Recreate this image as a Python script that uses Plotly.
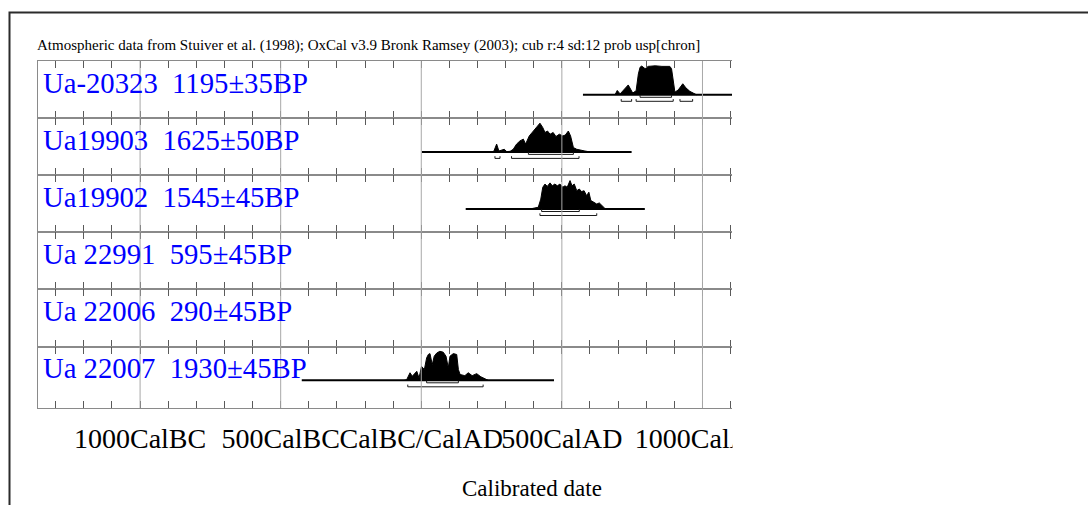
import plotly.graph_objects as go
from plotly.subplots import make_subplots

# ---------------- data ----------------
LAB_IDS = ["Ua-20323", "Ua19903", "Ua19902", "Ua 22991", "Ua 22006", "Ua 22007"]
BP_AGES = [1195, 1625, 1545, 595, 290, 1930]
BP_ERRS = [35, 50, 45, 45, 45, 45]

TICK_VALS = [-1000, -500, 0, 500, 1000]
TICK_TEXT = ["1000CalBC", "500CalBC", "CalBC/CalAD", "500CalAD", "1000CalAD"]

TITLE = ("Atmospheric data from Stuiver et al. (1998); OxCal v3.9 Bronk Ramsey (2003); "
         "cub r:4 sd:12 prob usp[chron]")
X_TITLE = "Calibrated date"

# Ua-20323
UA20323_YEARS = [689, 697, 707, 725, 736, 752, 764, 772, 778, 784, 796, 807, 832, 856, 884, 890,
                 896, 902, 914, 930, 941, 955, 967, 979]
UA20323_PROB = [0, .15, .03, .24, .34, .06, .14, .72, .95, .99, .90, .98, 1.0, .98, .98, .90,
                .38, .09, .17, .38, .24, .12, .06, 0]
UA20323_SPAN = [575, 1250]
UA20323_R68 = [[778, 890]]
UA20323_R95 = [[711, 748], [764, 896], [920, 965]]

# Ua19903
UA19903_YEARS = [245, 258, 268, 276, 295, 304, 316, 327, 339, 351, 363, 371, 384, 398, 410, 422,
                 432, 440, 449, 458, 469, 479, 491, 503, 512, 523, 531, 541, 553, 564, 582, 594]
UA19903_PROB = [0, .02, .27, .03, .09, .01, .02, .09, .27, .38, .44, .27, .55, .72, .84, .99,
                .84, .67, .72, .61, .67, .53, .61, .55, .58, .72, .55, .15, .09, .06, .03, .01]
UA19903_SPAN = [2, 748]
UA19903_R68 = [[381, 541]]
UA19903_R95 = [[262, 280], [321, 561]]

# Ua19902
UA19902_YEARS = [386, 416, 425, 432, 440, 448, 458, 466, 475, 484, 493, 503, 511, 519, 529, 536,
                 544, 553, 562, 570, 579, 588, 596, 603, 614, 624, 633, 642, 653, 665]
UA19902_PROB = [0, .06, .34, .75, .86, .78, .90, .80, .86, .80, .86, .75, .80, .75, .98, .80,
                .86, .63, .69, .60, .63, .46, .58, .29, .23, .17, .21, .12, .02, 0]
UA19902_SPAN = [158, 795]
UA19902_R68 = [[428, 562]]
UA19902_R95 = [[422, 624]]

# Ua 22007
UA22007_YEARS = [-60, -52, -40, -32, -16, -8, 1, 11, 19, 25, 31, 39, 46, 55, 66, 78, 88, 96,
                 102, 114, 126, 132, 138, 155, 167, 181, 197, 212, 227, 238]
UA22007_PROB = [0, .02, .26, .14, .31, .08, .48, .37, .77, .89, .92, .54, .83, .94, 1.0, .97,
                .83, .43, .83, .92, .89, .37, .20, .16, .26, .16, .23, .12, .05, 0]
UA22007_SPAN = [-425, 472]
UA22007_R68 = [[19, 132]]
UA22007_R95 = [[-48, 220]]

SERIES = {
    1: (UA20323_YEARS, UA20323_PROB, UA20323_SPAN, UA20323_R68, UA20323_R95),
    2: (UA19903_YEARS, UA19903_PROB, UA19903_SPAN, UA19903_R68, UA19903_R95),
    3: (UA19902_YEARS, UA19902_PROB, UA19902_SPAN, UA19902_R68, UA19902_R95),
    6: (UA22007_YEARS, UA22007_PROB, UA22007_SPAN, UA22007_R68, UA22007_R95),
}

# ---------------- layout / style ----------------
W, H = 1088, 505
PL, PR, PT, PB = 38, 732, 61, 408
PW, PH = PR - PL, PB - PT
ROW_PX = [57.1] * 5 + [61.5]
X_RANGE = [-1363, 1105]
BASE = 33.8        # baseline, px below row top
AMP = 29.0         # max density height, px
OFF68, OFF95, TICKH = 2.5, 6.5, 2.2

FONT = "Liberation Serif"
LINE_C = "#8a8a8a"
GRID_C = "#a8a8a8"
TICK_C = "#5a5a5a"
BLUE = "#0000ff"


def px_x(p):
    return (p - PL) / PW


def px_y(p):
    return (PB - p) / PH


fig = make_subplots(rows=6, cols=1, shared_xaxes=True, vertical_spacing=0,
                    row_heights=ROW_PX)

for r in range(1, 7):
    # empty placeholder so that every row's axes are drawn
    fig.add_trace(go.Scatter(x=[None], y=[None], mode="lines", hoverinfo="skip"),
                  row=r, col=1)

for r, (yrs, prob, span, r68, r95) in SERIES.items():
    # baseline
    fig.add_trace(go.Scatter(x=span, y=[BASE, BASE], mode="lines",
                             line=dict(color="black", width=2), hoverinfo="skip"),
                  row=r, col=1)
    # density
    fig.add_trace(go.Scatter(x=yrs, y=[BASE - p * AMP for p in prob], mode="lines",
                             fill="toself", fillcolor="black",
                             line=dict(color="black", width=1), hoverinfo="skip"),
                  row=r, col=1)
    # range brackets
    bx, by = [], []
    for rng, off in [(r68, OFF68), (r95, OFF95)]:
        for a, b in rng:
            lv = BASE + off
            bx += [a, a, b, b, None]
            by += [lv - TICKH, lv, lv, lv - TICKH, None]
    fig.add_trace(go.Scatter(x=bx, y=by, mode="lines",
                             line=dict(color="#1a1a1a", width=1), hoverinfo="skip"),
                  row=r, col=1)

for r in range(1, 7):
    fig.update_xaxes(row=r, col=1, range=X_RANGE, showline=True, linecolor=LINE_C,
                     linewidth=1, mirror="ticks", ticks="inside", ticklen=7,
                     tickcolor=TICK_C, tickwidth=1, tickmode="array",
                     tickvals=TICK_VALS, ticktext=TICK_TEXT, tickangle=0,
                     ticklabelstandoff=5,
                     showticklabels=(r == 6), showgrid=False, zeroline=False,
                     automargin=False,
                     minor=dict(ticks="inside", ticklen=7, tickcolor=TICK_C,
                                tickmode="linear", tick0=0, dtick=100, showgrid=False),
                     tickfont=dict(family=FONT, size=28, color="black"),
                     fixedrange=True)
    fig.update_yaxes(row=r, col=1, range=[ROW_PX[r - 1], 0], showline=True,
                     linecolor=LINE_C, linewidth=1, mirror=False, ticks="",
                     showticklabels=False, showgrid=False, zeroline=False,
                     automargin=False, fixedrange=True)

shapes = []
# outer frame
shapes.append(dict(type="rect", xref="paper", yref="paper",
                   x0=px_x(9.5), x1=px_x(1300), y0=px_y(700), y1=px_y(12.5),
                   line=dict(color="#2b2b2b", width=2), fillcolor="rgba(0,0,0,0)",
                   layer="below"))
# major grid lines drawn over the distributions
for v in TICK_VALS:
    shapes.append(dict(type="line", xref="x", yref="paper", x0=v, x1=v, y0=0, y1=1,
                       line=dict(color=GRID_C, width=1), layer="above"))
# clip of tick labels at the right edge of the plot
shapes.append(dict(type="rect", xref="paper", yref="paper",
                   x0=px_x(PR + 0.5), x1=px_x(860), y0=px_y(475), y1=px_y(PB + 3),
                   line=dict(width=0), fillcolor="white", layer="above"))

annotations = [
    dict(text=TITLE, xref="paper", yref="paper", x=px_x(36), y=px_y(45.5), xanchor="left",
         yanchor="middle", showarrow=False, borderpad=0,
         font=dict(family=FONT, size=15, color="black")),
    dict(text=X_TITLE, xref="paper", yref="paper", x=px_x(531.5), y=px_y(488),
         xanchor="center", yanchor="middle", showarrow=False,
         font=dict(family=FONT, size=23, color="black")),
]
top = PT
for i in range(6):
    label = f"{LAB_IDS[i]}  {BP_AGES[i]}\u00b1{BP_ERRS[i]}BP"
    annotations.append(dict(text=label, xref="paper", yref="paper", x=px_x(42),
                            y=px_y(top + 21.5), xanchor="left", yanchor="middle",
                            showarrow=False, borderpad=0,
                            font=dict(family=FONT, size=28.7, color=BLUE)))
    top += ROW_PX[i]

fig.update_layout(width=W, height=H, autosize=False,
                  margin=dict(l=PL, r=W - PR, t=PT, b=H - PB, pad=0, autoexpand=False),
                  paper_bgcolor="white", plot_bgcolor="white", showlegend=False,
                  font=dict(family=FONT), shapes=shapes, annotations=annotations)

fig.write_html("out.html")
